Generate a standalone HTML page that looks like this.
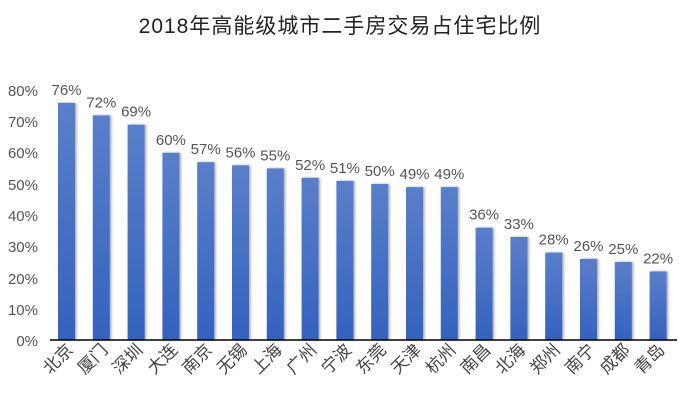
<!DOCTYPE html>
<html><head><meta charset="utf-8"><style>
body{margin:0;background:#fff;}
svg text{font-family:"Liberation Sans","Noto Sans CJK SC",sans-serif;}
</style></head><body>
<svg width="680" height="404" viewBox="0 0 680 404">
<defs><linearGradient id="g" x1="0" y1="0" x2="0" y2="1"><stop offset="0" stop-color="#5a7fca"/><stop offset="1" stop-color="#3462be"/></linearGradient>
<filter id="s" x="-30%" y="-5%" width="160%" height="110%"><feDropShadow dx="1.5" dy="0" stdDeviation="1.2" flood-color="#000" flood-opacity="0.35"/></filter></defs>
<text x="340" y="33" text-anchor="middle" font-size="21" fill="#222" letter-spacing="1">2018年高能级城市二手房交易占住宅比例</text>
<g font-size="15" fill="#555" text-anchor="end">
<text x="38" y="96">80%</text><text x="38" y="127">70%</text><text x="38" y="158">60%</text><text x="38" y="190">50%</text><text x="38" y="221">40%</text><text x="38" y="252">30%</text><text x="38" y="284">20%</text><text x="38" y="315">10%</text><text x="38" y="346">0%</text>
</g>
<g fill="url(#g)" filter="url(#s)">
<rect x="58" y="102.9" width="17" height="237.1"/>
<rect x="92.8" y="115.4" width="17" height="224.6"/>
<rect x="127.6" y="124.7" width="17" height="215.3"/>
<rect x="162.4" y="152.8" width="17" height="187.2"/>
<rect x="197.2" y="162.2" width="17" height="177.8"/>
<rect x="232" y="165.3" width="17" height="174.7"/>
<rect x="266.8" y="168.4" width="17" height="171.6"/>
<rect x="301.6" y="177.8" width="17" height="162.2"/>
<rect x="336.4" y="180.9" width="17" height="159.1"/>
<rect x="371.2" y="184" width="17" height="156"/>
<rect x="406" y="187.1" width="17" height="152.9"/>
<rect x="440.8" y="187.1" width="17" height="152.9"/>
<rect x="475.6" y="227.7" width="17" height="112.3"/>
<rect x="510.4" y="237" width="17" height="103"/>
<rect x="545.2" y="252.6" width="17" height="87.4"/>
<rect x="580" y="258.9" width="17" height="81.1"/>
<rect x="614.8" y="262" width="17" height="78"/>
<rect x="649.6" y="271.4" width="17" height="68.6"/>
</g>
<g font-size="15" fill="#555" text-anchor="middle">
<text x="66.5" y="95">76%</text>
<text x="101.3" y="107.4">72%</text>
<text x="136.1" y="116.7">69%</text>
<text x="170.9" y="144.8">60%</text>
<text x="205.7" y="154.2">57%</text>
<text x="240.5" y="157.3">56%</text>
<text x="275.3" y="160.4">55%</text>
<text x="310.1" y="169.8">52%</text>
<text x="344.9" y="172.9">51%</text>
<text x="379.7" y="176">50%</text>
<text x="414.5" y="179.1">49%</text>
<text x="449.3" y="179.1">49%</text>
<text x="484.1" y="219.7">36%</text>
<text x="518.9" y="229">33%</text>
<text x="553.7" y="244.6">28%</text>
<text x="588.5" y="250.9">26%</text>
<text x="623.3" y="254">25%</text>
<text x="658.1" y="263.4">22%</text>
</g>
<g font-size="17" fill="#444" text-anchor="end">
<text transform="translate(74,351) rotate(-45)">北京</text>
<text transform="translate(108.8,351) rotate(-45)">厦门</text>
<text transform="translate(143.6,351) rotate(-45)">深圳</text>
<text transform="translate(178.4,351) rotate(-45)">大连</text>
<text transform="translate(213.2,351) rotate(-45)">南京</text>
<text transform="translate(248,351) rotate(-45)">无锡</text>
<text transform="translate(282.8,351) rotate(-45)">上海</text>
<text transform="translate(317.6,351) rotate(-45)">广州</text>
<text transform="translate(352.4,351) rotate(-45)">宁波</text>
<text transform="translate(387.2,351) rotate(-45)">东莞</text>
<text transform="translate(422,351) rotate(-45)">天津</text>
<text transform="translate(456.8,351) rotate(-45)">杭州</text>
<text transform="translate(491.6,351) rotate(-45)">南昌</text>
<text transform="translate(526.4,351) rotate(-45)">北海</text>
<text transform="translate(561.2,351) rotate(-45)">郑州</text>
<text transform="translate(596,351) rotate(-45)">南宁</text>
<text transform="translate(630.8,351) rotate(-45)">成都</text>
<text transform="translate(665.6,351) rotate(-45)">青岛</text>
</g>
<line x1="50" y1="340" x2="677" y2="340" stroke="#000" stroke-width="1.5"/>
</svg>
</body></html>
